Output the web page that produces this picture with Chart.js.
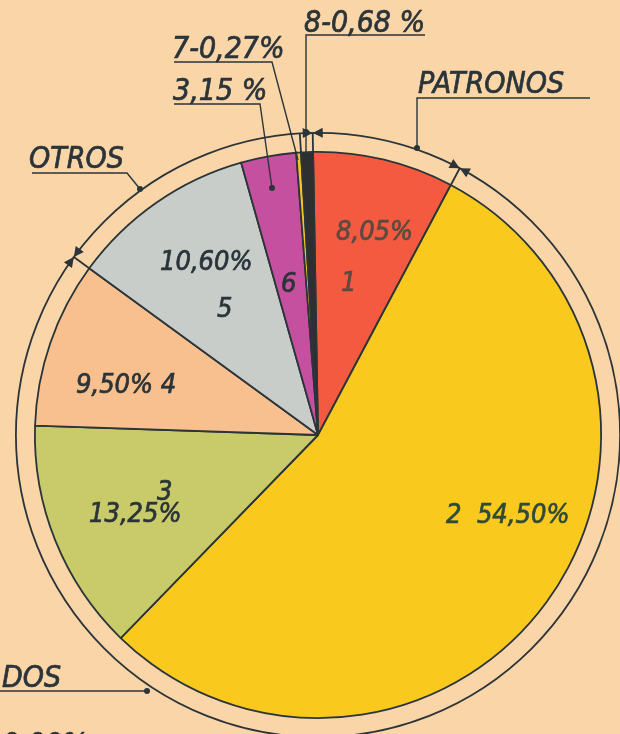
<!DOCTYPE html>
<html>
<head>
<meta charset="utf-8">
<script src="https://cdn.jsdelivr.net/npm/chart.js@4"></script>
<style>
  html, body { margin: 0; padding: 0; background: #fad5a8; }
  canvas { display: block; }
</style>
</head>
<body>
<canvas id="pie" width="620" height="734"></canvas>
<script>
// values, clockwise from the top
const sectores = ['1', '2', '3', '4', '5', '6', '7', '8'];
const porcentajes = [8.05, 54.50, 13.25, 9.50, 10.60, 3.15, 0.27, 0.68];
const etiquetas = ['8,05%', '54,50%', '13,25%', '9,50%', '10,60%', '3,15%', '0,27%', '0,68%'];
const colores = ['#f45a3f', '#f9c91e', '#c9cb6a', '#f9c08f', '#c9cdc9', '#c5509f', '#f3c524', '#2e2f31'];

const ink = '#2a3439';
const font = (size) => `oblique ${size}px "DejaVu Sans Condensed", "DejaVu Sans", sans-serif`;

const text = (ctx, str, x, y, size, color) => {
    ctx.font = font(size);
    ctx.fillStyle = color || ink;
    ctx.strokeStyle = color || ink;
    ctx.lineWidth = 0.7;
    ctx.fillText(str, x, y);
    ctx.strokeText(str, x, y);
};

const line = (ctx, pts) => {
    ctx.beginPath();
    ctx.moveTo(pts[0][0], pts[0][1]);
    for (let i = 1; i < pts.length; i++) ctx.lineTo(pts[i][0], pts[i][1]);
    ctx.stroke();
};

const dot = (ctx, x, y) => {
    ctx.beginPath();
    ctx.arc(x, y, 3, 0, Math.PI * 2);
    ctx.fill();
};

const bowTie = (ctx, cx, cy, angle) => {
    // little double arrow sitting on the outer ring
    const tx = -Math.sin(angle), ty = Math.cos(angle); // ring tangent
    const nx = Math.cos(angle), ny = Math.sin(angle);
    ctx.beginPath();
    [1, -1].forEach(s => {
        ctx.moveTo(cx, cy);
        ctx.lineTo(cx + s * 10 * tx + 5 * nx, cy + s * 10 * ty + 5 * ny);
        ctx.lineTo(cx + s * 10 * tx - 5 * nx, cy + s * 10 * ty - 5 * ny);
        ctx.closePath();
    });
    ctx.fill();
};

const anotaciones = {
    id: 'anotaciones',
    afterDraw(chart) {
        const ctx = chart.ctx;
        const arcs = chart.getDatasetMeta(0).data;
        const { x, y, outerRadius } = arcs[0];
        const ringR = outerRadius + 19;
        ctx.save();
        ctx.strokeStyle = ink;
        ctx.fillStyle = ink;
        ctx.lineWidth = 1.8;

        // outer ring
        ctx.beginPath();
        ctx.arc(x, y, ringR, 0, Math.PI * 2);
        ctx.stroke();

        // group boundaries on the ring: start of 1, start of 2, start of 5
        [arcs[0].startAngle, arcs[1].startAngle, arcs[4].startAngle].forEach(a => {
            line(ctx, [[x + outerRadius * Math.cos(a), y + outerRadius * Math.sin(a)],
                       [x + ringR * Math.cos(a), y + ringR * Math.sin(a)]]);
            bowTie(ctx, x + ringR * Math.cos(a), y + ringR * Math.sin(a), a);
        });
        // black sector edge carried up to the ring
        const a8 = arcs[7].startAngle;
        line(ctx, [[x + outerRadius * Math.cos(a8), y + outerRadius * Math.sin(a8)],
                   [x + ringR * Math.cos(a8), y + ringR * Math.sin(a8)]]);

        ctx.lineWidth = 1.4;
        // 8 - 0,68 %
        line(ctx, [[425, 35], [306, 35], [306, 152]]);
        dot(ctx, 306, 132);
        text(ctx, '8-0,68 %', 304, 32, 30);
        // 7 - 0,27 %
        ctx.lineWidth = 1.4;
        line(ctx, [[174, 62], [272, 62], [298, 160]]);
        text(ctx, '7-0,27%', 172, 58, 30);
        // 3,15 %
        ctx.lineWidth = 1.4;
        line(ctx, [[174, 104], [260, 104], [272, 188]]);
        dot(ctx, 272, 188);
        text(ctx, '3,15 %', 173, 100, 30);
        // PATRONOS
        ctx.lineWidth = 1.4;
        line(ctx, [[590, 98], [417, 98], [417, 148]]);
        dot(ctx, 417, 148);
        text(ctx, 'PATRONOS', 418, 93, 30);
        // OTROS
        ctx.lineWidth = 1.4;
        line(ctx, [[32, 173], [127, 173], [140, 189]]);
        dot(ctx, 140, 189);
        text(ctx, 'OTROS', 29, 168, 30);
        // DOS
        ctx.lineWidth = 1.4;
        line(ctx, [[0, 691], [147, 691]]);
        dot(ctx, 147, 691);
        text(ctx, 'DOS', 2, 687, 30);
        text(ctx, '0,00%', 2, 754, 30);

        // sector labels
        const t = ink;
        text(ctx, etiquetas[0], 336, 240, 27, '#5b4b42');
        text(ctx, sectores[0], 341, 291, 27, '#5b4b42');
        text(ctx, sectores[1] + '  ' + etiquetas[1], 446, 523, 27, '#2f4a3a');
        text(ctx, sectores[2], 157, 500, 27, t);
        text(ctx, etiquetas[2], 89, 522, 27, t);
        text(ctx, etiquetas[3] + ' ' + sectores[3], 76, 393, 27, t);
        text(ctx, etiquetas[4], 160, 270, 27, t);
        text(ctx, sectores[4], 217, 317, 27, t);
        text(ctx, sectores[5], 281, 292, 27, t);
        ctx.restore();
    }
};

new Chart(document.getElementById('pie'), {
    type: 'pie',
    data: {
        labels: sectores,
        datasets: [{
            data: porcentajes,
            backgroundColor: colores,
            borderColor: ink,
            borderWidth: 1.8,
        }]
    },
    options: {
        responsive: false,
        animation: false,
        rotation: -1,
        layout: { padding: { left: 34, right: 18, top: 151, bottom: 15 } },
        plugins: { legend: { display: false }, tooltip: { enabled: false } },
    },
    plugins: [anotaciones],
});
</script>
</body>
</html>
